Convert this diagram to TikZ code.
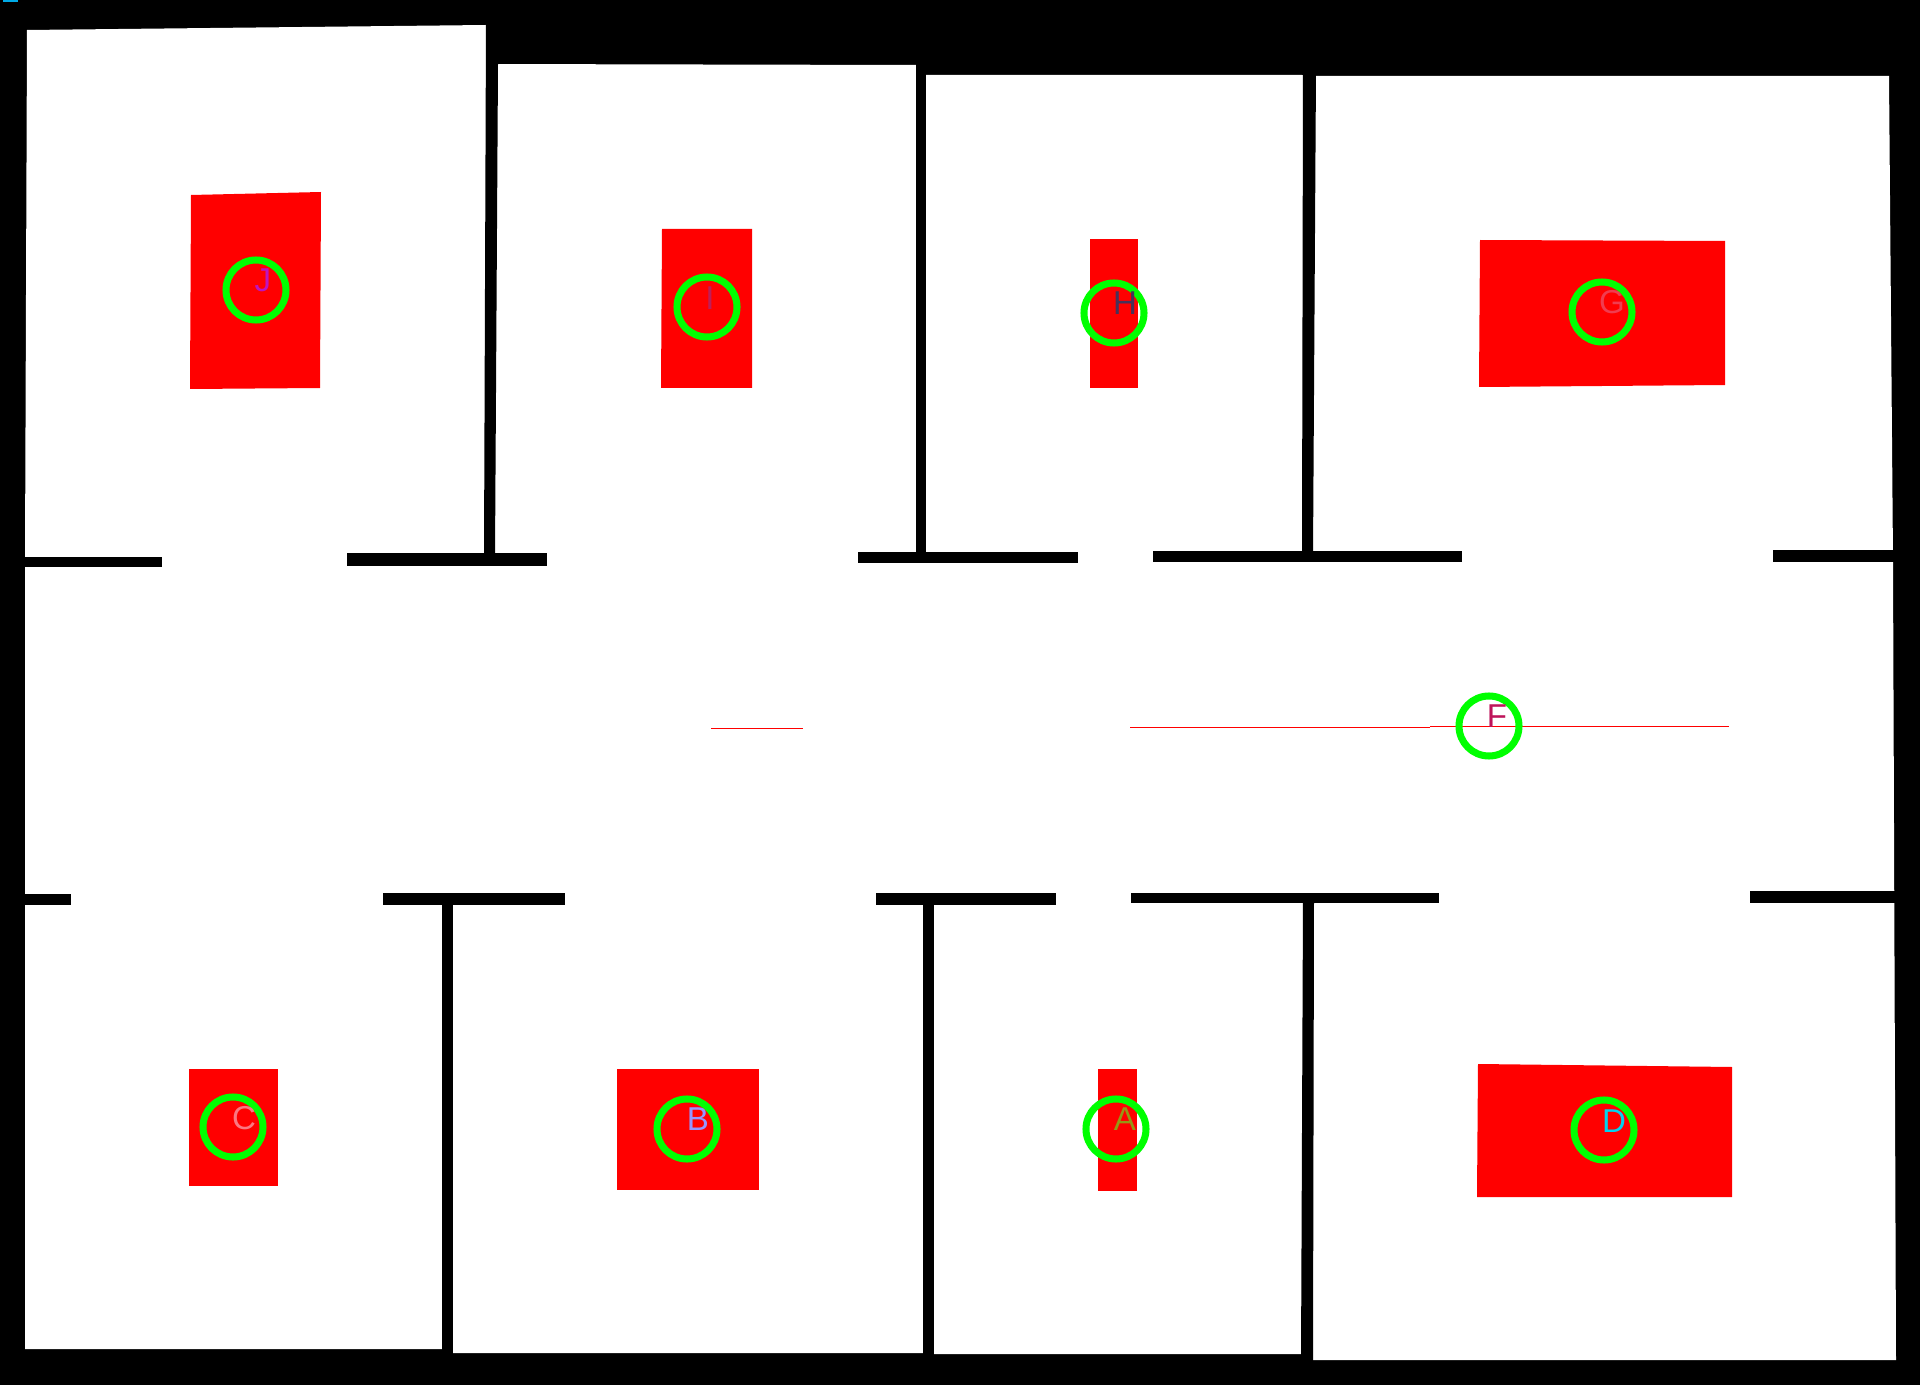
\documentclass[tikz,border=0pt]{standalone}
\usepackage{fontspec}
\setmainfont{Liberation Sans}

\definecolor{spotgreen}{RGB}{0,255,0}
\definecolor{cornerblue}{RGB}{0,170,230}
\definecolor{tagA}{RGB}{150,150,20}
\definecolor{tagB}{RGB}{150,150,255}
\definecolor{tagC}{RGB}{250,120,130}
\definecolor{tagD}{RGB}{0,210,240}
\definecolor{tagF}{RGB}{190,20,90}
\definecolor{tagG}{RGB}{240,60,80}
\definecolor{tagH}{RGB}{70,50,90}
\definecolor{tagI}{RGB}{190,30,90}
\definecolor{tagJ}{RGB}{190,20,190}

\tikzset{
    wall/.style={fill=black},
    zone/.style={fill=red},
    spot/.style={draw=spotgreen, line width=2pt},
    tag/.style={inner sep=0pt, font=\fontsize{9.4}{10}\selectfont}
}

\begin{document}
\begin{tikzpicture}[x=0.01cm, y=-0.01cm]
            \useasboundingbox (0, 0) rectangle (1920, 1385);
            \fill [black] (0, 0) rectangle (1920, 1385);
            \fill [cornerblue] (3, 0) rectangle (18, 2);
            % floor
            \fill [white] (27, 30) -- (486, 25) -- (487, 64) -- (916, 65) -- (926, 75) -- (1302, 75) -- (1316, 76) -- (1889, 76)
                -- (1893, 560) -- (1896, 1360) -- (1313, 1360) -- (1301, 1354) -- (934, 1354) -- (923, 1353) -- (453, 1353)
                -- (442, 1349) -- (25, 1349) -- (25, 560) -- cycle;
            % walls between the rooms
            \fill [wall] (486, 20) -- (498, 20) -- (498, 64) -- (495, 556) -- (484, 556) -- cycle;
            \fill [wall] (916, 60) -- (926, 60) -- (926, 556) -- (916, 556) -- cycle;
            \fill [wall] (1303, 70) -- (1316, 70) -- (1313, 556) -- (1302, 556) -- cycle;
            \fill [wall] (442, 900) rectangle (453, 1355);
            \fill [wall] (923, 900) rectangle (934, 1356);
            \fill [wall] (1303, 900) -- (1314, 900) -- (1313, 1362) -- (1301, 1362) -- cycle;
            % upper row of door walls
            \fill [wall] (20, 557) rectangle (162, 567);
            \fill [wall] (347, 553) rectangle (547, 566);
            \fill [wall] (858, 552) rectangle (1078, 563);
            \fill [wall] (1153, 551) rectangle (1462, 562);
            \fill [wall] (1773, 550) rectangle (1895, 562);
            % lower row of door walls
            \fill [wall] (20, 894) rectangle (71, 905);
            \fill [wall] (383, 893) rectangle (565, 905);
            \fill [wall] (876, 893) rectangle (1056, 905);
            \fill [wall] (1131, 893) rectangle (1439, 903);
            \fill [wall] (1750, 891) rectangle (1898, 903);
            % red zones
            \fill [zone] (191, 195) -- (321, 192) -- (320, 388) -- (190, 389) -- cycle;
            \fill [zone] (662, 229) -- (752, 229) -- (752, 388) -- (661, 388) -- cycle;
            \fill [zone] (1090, 239) rectangle (1138, 388);
            \fill [zone] (1480, 240) -- (1725, 241) -- (1725, 385) -- (1479, 387) -- cycle;
            \fill [zone] (189, 1069) rectangle (278, 1186);
            \fill [zone] (617, 1069) rectangle (759, 1190);
            \fill [zone] (1098, 1069) rectangle (1137, 1191);
            \fill [zone] (1478, 1064) -- (1732, 1067) -- (1732, 1197) -- (1477, 1197) -- cycle;
            \fill [zone] (711, 727.5) rectangle (803, 728.7);
            \fill [zone] (1130, 726.6) rectangle (1430, 727.8);
            \fill [zone] (1430, 725.8) rectangle (1729, 727);
            % green circles
            \draw [spot] (256, 290) circle [radius=30];
            \draw [spot] (707, 307) circle [radius=30];
            \draw [spot] (1114, 313) circle [radius=30];
            \draw [spot] (1602, 312) circle [radius=30];
            \draw [spot] (1489, 726) circle [radius=30];
            \draw [spot] (233, 1127) circle [radius=30];
            \draw [spot] (687, 1129) circle [radius=30];
            \draw [spot] (1116, 1129) circle [radius=30];
            \draw [spot] (1604, 1130) circle [radius=30];
            % letters
            \node [tag, tagJ] (labelJ) at (263, 280) {J};
            \node [tag, tagI] (labelI) at (710, 298) {I};
            \node [tag, tagH] (labelH) at (1125, 303) {H};
            \node [tag, tagG] (labelG) at (1612, 302) {G};
            \node [tag, tagF] (labelF) at (1497, 716) {F};
            \node [tag, tagC] (labelC) at (244, 1118) {C};
            \node [tag, tagB] (labelB) at (698, 1119) {B};
            \node [tag, tagA] (labelA) at (1125, 1119) {A};
            \node [tag, tagD] (labelD) at (1614, 1121) {D};
        \end{tikzpicture}
\end{document}
